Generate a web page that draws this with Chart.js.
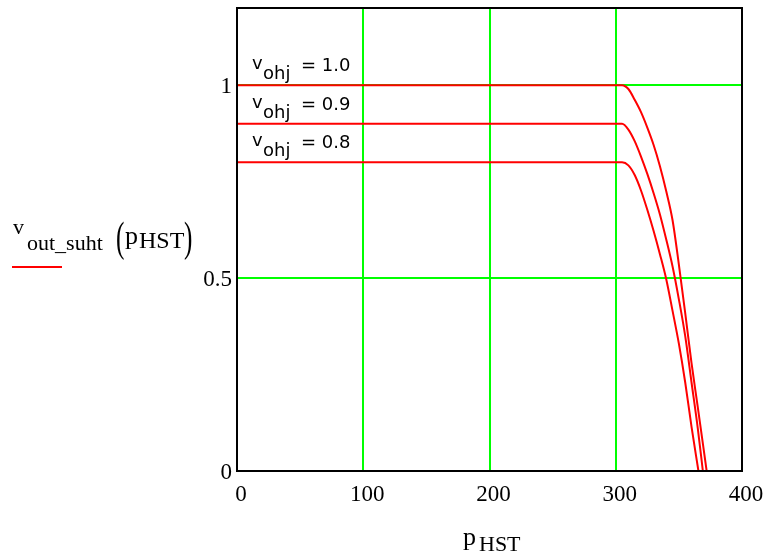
<!DOCTYPE html>
<html>
<head>
<meta charset="utf-8">
<title>v_out_suht(p_HST)</title>
<script src="https://cdn.jsdelivr.net/npm/chart.js@4.4.1/dist/chart.umd.min.js"></script>
<style>
    html, body { margin: 0; padding: 0; background: #ffffff; }
    #wrap { width: 763px; height: 554px; }
</style>
</head>
<body>
<div id="wrap"><canvas id="chart" width="763" height="554"></canvas></div>
<script>
// Tick values and labels for both axes
var xTicks = [0, 100, 200, 300, 400];
var yTicks = [0, 0.5, 1];
var yTickLabels = ['0', '0.5', '1'];

// Curve levels and their labels
var vOhj = [1.0, 0.9, 0.8];
var vOhjLabels = ['1.0', '0.9', '0.8'];

// v_ohj = 1.0
var pHst10 = [0, 300, 305, 310, 315, 320, 325, 330, 335, 340, 345, 350, 355, 360, 365, 372];
var vOut10 = [1, 1, 1, 0.99, 0.962, 0.93, 0.89, 0.845, 0.79, 0.725, 0.65, 0.535, 0.41, 0.28, 0.165, 0];

// v_ohj = 0.9
var pHst09 = [0, 300, 305, 310, 315, 320, 325, 330, 335, 340, 345, 350, 355, 360, 365, 369];
var vOut09 = [0.9, 0.9, 0.9, 0.885, 0.855, 0.815, 0.77, 0.72, 0.665, 0.6, 0.53, 0.445, 0.35, 0.23, 0.11, 0];

// v_ohj = 0.8
var pHst08 = [0, 300, 305, 310, 315, 320, 325, 330, 335, 340, 345, 350, 355, 360, 365.5];
var vOut08 = [0.8, 0.8, 0.8, 0.792, 0.767, 0.727, 0.677, 0.622, 0.562, 0.497, 0.415, 0.33, 0.23, 0.115, 0];

function toPoints(xs, ys) {
    return xs.map(function(p, i) {
        return { x: p, y: ys[i] };
    });
}

function curve(xs, ys) {
    return {
        data: toPoints(xs, ys),
        borderColor: '#ff0000',
        borderWidth: 2,
        pointRadius: 0,
        showLine: true,
        fill: false,
        cubicInterpolationMode: 'monotone'
    };
}

// Black frame round the plot area
var frame = {
    id: 'frame',
    afterDatasetsDraw: function(chart) {
        var a = chart.chartArea;
        var ctx = chart.ctx;
        ctx.save();
        ctx.strokeStyle = '#000000';
        ctx.lineWidth = 2;
        ctx.strokeRect(a.left, a.top, a.right - a.left, a.bottom - a.top);
        ctx.restore();
    }
};

// Axis titles and the v_ohj labels
var texts = {
    id: 'texts',
    afterDraw: function(chart) {
        var ctx = chart.ctx;
        var y = chart.scales.y;
        ctx.save();
        ctx.fillStyle = '#000000';
        ctx.textBaseline = 'alphabetic';

        // v_ohj = ... labels above each line
        vOhj.forEach(function(v, i) {
            var py = y.getPixelForValue(v);
            ctx.font = '18px "DejaVu Sans"';
            ctx.fillText('v', 252, py - 16);
            ctx.fillText('= ' + vOhjLabels[i], 301, py - 14);
            ctx.fillText('ohj', 263, py - 6);
        });

        // y axis title
        ctx.font = '22px "Liberation Serif"';
        ctx.fillText('v', 13, 234);
        ctx.fillText('out_suht', 27, 250);
        ctx.font = '26px "Liberation Serif"';
        ctx.fillText('p', 125, 244);
        ctx.font = '24px "Liberation Serif"';
        ctx.fillText('HST', 139, 248);
        ctx.save();
        ctx.font = '42px "Liberation Serif"';
        ctx.scale(0.6, 1);
        ctx.fillText('(', 116 / 0.6, 251);
        ctx.fillText(')', 184 / 0.6, 251);
        ctx.restore();

        ctx.strokeStyle = '#ff0000';
        ctx.lineWidth = 2;
        ctx.beginPath();
        ctx.moveTo(12, 267);
        ctx.lineTo(62, 267);
        ctx.stroke();

        // x axis title
        ctx.font = '26px "Liberation Serif"';
        ctx.fillText('p', 463, 545);
        ctx.font = '22px "Liberation Serif"';
        ctx.fillText('HST', 479, 551);
        ctx.restore();
    }
};

var tickFont = { family: '"Liberation Serif"', size: 23 };

new Chart(document.getElementById('chart'), {
    type: 'scatter',
    data: {
        datasets: [
            curve(pHst10, vOut10),
            curve(pHst09, vOut09),
            curve(pHst08, vOut08)
        ]
    },
    options: {
        responsive: false,
        animation: false,
        devicePixelRatio: 1,
        layout: { padding: { top: 8, right: 21, left: 0, bottom: 0 } },
        plugins: {
            legend: { display: false },
            tooltip: { enabled: false }
        },
        scales: {
            x: {
                type: 'linear',
                min: 0,
                max: 400,
                afterBuildTicks: function(s) {
                    s.ticks = xTicks.map(function(v) { return { value: v }; });
                },
                afterFit: function(s) {
                    s.height = 83;
                    s.paddingLeft = 0;
                    s.paddingRight = 0;
                },
                grid: { color: '#00ff00', lineWidth: 2, drawTicks: false },
                border: { display: false },
                ticks: {
                    color: '#000000',
                    font: tickFont,
                    padding: 10,
                    labelOffset: 4,
                    maxRotation: 0
                }
            },
            y: {
                type: 'linear',
                min: 0,
                max: 1.2,
                afterBuildTicks: function(s) {
                    s.ticks = yTicks.map(function(v) { return { value: v }; });
                },
                afterFit: function(s) {
                    s.width = 237;
                    s.paddingTop = 0;
                    s.paddingBottom = 0;
                },
                grid: { color: '#00ff00', lineWidth: 2, drawTicks: false },
                border: { display: false },
                ticks: {
                    color: '#000000',
                    font: tickFont,
                    padding: 5,
                    labelOffset: 2,
                    callback: function(value, index) {
                        return yTickLabels[index];
                    }
                }
            }
        }
    },
    plugins: [frame, texts]
});
</script>
</body>
</html>
